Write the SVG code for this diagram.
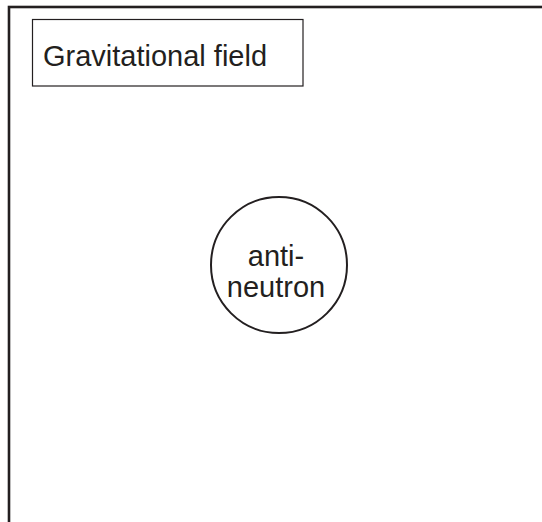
<svg xmlns="http://www.w3.org/2000/svg" width="542" height="522" viewBox="0 0 542 522">
<style>
.ln{fill:none;stroke:#231f20}
.t{font-family:"Liberation Sans",Arial,sans-serif;font-size:29px;fill:#231f20}
</style>
<rect width="542" height="522" fill="#fff"/>
<g id="frame"><rect class="ln" x="9" y="7" width="600" height="600" stroke-width="2.6"/></g>
<g id="label"><rect class="ln" x="32.5" y="19.5" width="270.5" height="66.5" stroke-width="1.2"/>
<text class="t" x="43" y="65.5">Gravitational field</text></g>
<g id="antineutron"><circle class="ln" cx="279" cy="265" r="68" stroke-width="2"/>
<text class="t" text-anchor="middle"><tspan x="276" y="265.5">anti-</tspan><tspan x="276" y="296.5">neutron</tspan></text></g>
<g id="connectors"/>
</svg>
